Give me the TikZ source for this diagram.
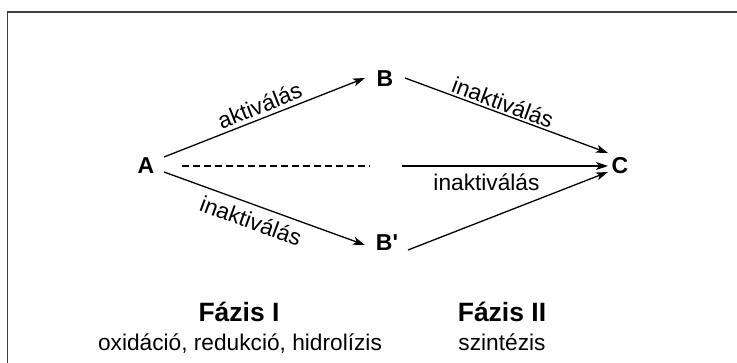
\documentclass[tikz,border=0pt]{standalone}
\usepackage{fontspec}
\setmainfont{Liberation Sans}
% a face without TeX quote ligatures, so that ' stays a straight prime
\newfontfamily\speciesfont{Liberation Sans}[Ligatures=TeXOff]
\usetikzlibrary{arrows.meta}
\begin{document}
\begin{tikzpicture}[x=1pt,y=1pt,
  species/.style={font=\speciesfont\fontsize{23}{26}\selectfont\bfseries, inner sep=0pt},
  conn/.style={line width=1.3pt, -{Stealth[length=12pt,width=8pt,inset=3pt]}},
  lbl/.style={font=\fontsize{22.7}{26}\selectfont, sloped, inner xsep=0pt},
  phase/.style={font=\fontsize{26.5}{30}\selectfont\bfseries, anchor=base},
  sub/.style={font=\fontsize{22.7}{26}\selectfont, anchor=base}]
\useasboundingbox (0,0) rectangle (737,363);

% frame (top and left edges)
\draw[line width=1.6pt, black!75] (737,351) -- (7.5,351) -- (7.5,0);

% species
\node[species] (A)  at (146,197)   {A};
\node[species] (B)  at (385,284)   {B};
\node[species] (Bp) at (387,120.5) {B'};
\node[species] (C)  at (620,197)   {C};

% free ends of the direct routes
\coordinate (dashend)  at (370,197);
\coordinate (directin) at (402,197);

% phase I
\draw[conn] ([shift={(18,9)}]A.center) -- ([shift={(-20,1)}]B.center)
  node[lbl, above, pos=0.50, inner ysep=4pt] {aktiválás};
\draw[conn] ([shift={(18,-6)}]A.center) -- ([shift={(-22,-2.5)}]Bp.center)
  node[lbl, below, pos=0.46, inner ysep=7pt] {inaktiválás};
\draw[line width=1.2pt, dash pattern=on 7pt off 4pt] ([shift={(36,0)}]A.center) -- (dashend);

% phase II
\draw[conn] ([shift={(20,1)}]B.center) -- ([shift={(-12,13)}]C.center)
  node[lbl, above, pos=0.464, inner ysep=2pt] {inaktiválás};
\draw[conn] ([shift={(21,-7.5)}]Bp.center) -- ([shift={(-12,-6)}]C.center);
\draw[conn] (directin) -- ([shift={(-12,0)}]C.center)
  node[lbl, below, pos=0.41, inner ysep=7.6pt] {inaktiválás};

% phase captions
\node[phase] (ph1) at (239,41) {Fázis I};
\node[sub]   (s1)  at (240,12) {oxidáció, redukció, hidrolízis};
\node[phase] (ph2) at (502,41) {Fázis II};
\node[sub]   (s2)  at (502,12) {szintézis};
\end{tikzpicture}
\end{document}
